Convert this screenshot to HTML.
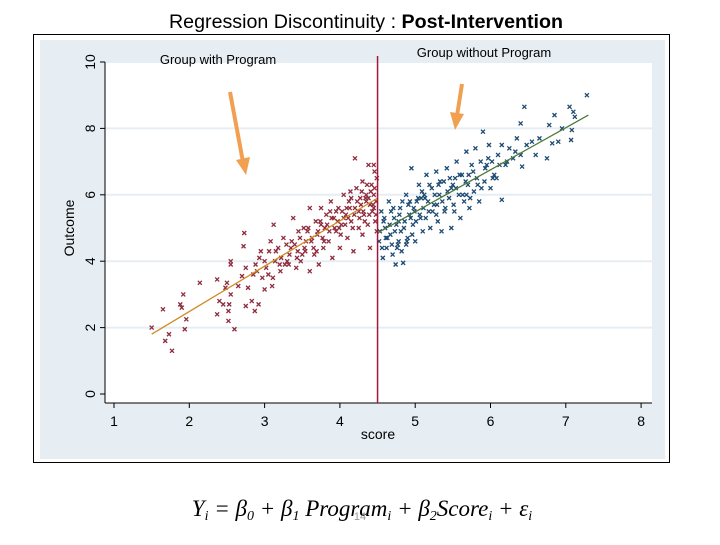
<!DOCTYPE html>
<html><head><meta charset="utf-8"><style>
body{margin:0;background:#fff;width:720px;height:540px;overflow:hidden;font-family:"Liberation Sans",sans-serif}
</style></head><body>
<svg width="720" height="540" xmlns="http://www.w3.org/2000/svg">
<text x="366" y="28" text-anchor="middle" font-size="19" textLength="394" lengthAdjust="spacingAndGlyphs">Regression Discontinuity : <tspan font-weight="bold">Post-Intervention</tspan></text>
<rect x="33.5" y="34.5" width="636" height="428" fill="#fff" stroke="#000"/>
<rect x="40" y="40" width="625" height="419" fill="#e6eef3"/>
<rect x="105" y="62" width="547" height="341" fill="#fff"/>
<g id="grid"></g><g id="axes"></g><g id="marks"></g>
<text x="218" y="64" text-anchor="middle" font-size="13">Group with Program</text>
<text x="484" y="57" text-anchor="middle" font-size="13">Group without Program</text>
<g stroke="#f0a050" stroke-width="4" fill="#f0a050"><line x1="230" y1="92" x2="243" y2="162"/><polygon points="236,160 250,157 246,175" stroke="none"/></g>
<g stroke="#f0a050" stroke-width="4" fill="#f0a050"><line x1="462" y1="84" x2="457" y2="116"/><polygon points="450,112 464,114 455,130" stroke="none"/></g>
<text x="362" y="516" text-anchor="middle" font-family="Liberation Serif,serif" font-style="italic" font-size="23">Y<tspan font-size="14" dy="4">i</tspan><tspan dy="-4"> = β</tspan><tspan font-size="14" dy="4">0</tspan><tspan dy="-4"> + β</tspan><tspan font-size="14" dy="4">1</tspan><tspan dy="-4"> Program</tspan><tspan font-size="14" dy="4">i</tspan><tspan dy="-4"> + β</tspan><tspan font-size="14" dy="4">2</tspan><tspan dy="-4">Score</tspan><tspan font-size="14" dy="4">i</tspan><tspan dy="-4"> + ε</tspan><tspan font-size="14" dy="4">i</tspan></text>
<text x="360" y="520" text-anchor="middle" font-size="11" fill="#999">14</text>
</svg>
<script>
const xTicks=[1,2,3,4,5,6,7,8];
const yTicks=[0,2,4,6,8,10];
const cutoff=4.5;
const leftFit=[[1.5,1.8],[4.5,5.9]];
const rightFit=[[4.5,4.85],[7.3,8.4]];
const leftX=[1.5,1.65,1.68,1.73,1.77,1.88,1.9,1.92,1.94,1.96,2.14,2.37,2.37,2.4,2.45,2.48,2.5,2.52,2.52,2.53,2.55,2.55,2.55,2.6,2.65,2.7,2.72,2.73,2.75,2.75,2.78,2.83,2.87,2.9,2.92,2.95,3.0,3.0,3.05,3.08,3.1,3.12,3.15,3.2,3.25,3.3,3.33,3.38,3.4,3.42,3.45,3.5,3.52,3.55,3.6,3.6,3.65,3.68,3.7,3.72,3.75,3.78,3.8,3.82,3.85,3.88,3.9,3.92,3.95,3.98,4.0,4.02,4.05,4.08,4.1,4.12,4.15,4.18,4.2,4.2,4.22,4.25,4.28,4.3,4.3,4.32,4.35,4.37,4.38,4.4,4.4,4.42,4.43,4.45,4.45,4.47,4.48,4.49,4.49,3.35,3.48,3.58,3.75,3.95,4.05,4.15,4.25,4.35,4.45,
 2.85,2.88,2.93,2.97,3.02,3.06,3.14,3.18,3.22,3.27,3.29,3.36,3.44,3.47,3.53,3.57,3.62,3.66,3.71,3.74,3.77,3.83,3.86,3.89,3.93,3.97,4.01,4.03,4.07,4.11,4.13,4.17,4.19,4.23,4.26,4.29,4.31,4.34,4.36,4.39,4.41,4.44,4.46,4.48,4.33,4.27,4.14,4.09,3.99,3.87,3.79,3.69,3.63,3.54,3.43,3.32,3.21,3.11,4.38,4.46];
const leftY=[2.0,2.55,1.6,1.8,1.3,2.7,2.6,3.0,1.95,2.25,3.35,2.4,3.45,2.8,2.7,3.2,3.35,2.5,2.2,2.7,3.0,3.9,4.0,1.95,3.25,3.55,4.45,4.85,2.65,3.8,3.2,2.8,2.5,3.7,2.7,4.3,3.15,4.0,3.6,4.6,3.25,5.1,4.3,3.9,4.7,4.0,4.2,5.3,4.5,3.8,4.9,4.2,5.0,4.6,3.7,5.6,4.4,5.2,4.8,3.9,5.6,4.4,5.0,5.4,4.6,5.8,4.1,5.3,4.9,5.6,4.4,5.1,6.0,5.4,4.7,5.8,5.2,4.3,5.6,7.1,6.2,5.0,5.7,6.4,4.8,5.4,6.0,5.1,6.9,5.7,4.4,6.3,5.5,6.9,6.0,5.2,5.8,6.5,4.9,4.4,4.0,5.0,5.1,5.5,5.3,5.9,5.5,5.8,5.6,
 3.6,3.9,4.1,3.5,3.8,4.3,4.0,4.4,4.1,3.9,4.5,4.6,4.3,4.7,4.4,4.9,4.6,4.2,4.9,5.2,4.7,5.1,4.9,5.3,5.0,5.2,4.8,5.5,5.1,5.3,5.6,5.0,5.4,5.8,5.3,6.1,5.5,5.9,6.3,5.4,6.1,5.7,6.2,5.4,5.2,5.9,6.1,5.6,5.0,5.5,4.6,4.3,4.7,4.3,4.1,3.9,3.7,3.5,5.9,6.7];
const rightX=[4.52,4.55,4.57,4.6,4.62,4.65,4.67,4.7,4.72,4.74,4.75,4.78,4.8,4.82,4.84,4.85,4.88,4.9,4.92,4.95,4.97,5.0,5.02,5.05,5.07,5.1,5.12,5.15,5.18,5.2,5.22,5.25,5.28,5.3,5.32,5.35,5.38,5.4,5.42,5.45,5.48,5.5,5.52,5.55,5.58,5.6,5.62,5.65,5.68,5.7,5.72,5.75,5.78,5.8,5.82,5.85,5.87,5.9,5.92,5.95,5.98,6.0,6.02,6.05,6.1,6.15,6.15,6.2,6.25,6.3,6.35,6.4,6.4,6.42,6.45,6.48,6.55,6.6,6.65,6.75,6.78,6.82,6.85,6.9,6.95,7.05,7.07,7.08,7.1,7.12,7.28,4.58,4.68,4.78,4.88,4.98,5.08,5.28,5.48,5.68,5.88,6.08,
 4.53,4.56,4.59,4.63,4.66,4.69,4.71,4.73,4.76,4.79,4.81,4.83,4.86,4.89,4.91,4.94,4.96,4.99,5.01,5.04,5.06,5.09,5.11,5.14,5.17,5.19,5.23,5.26,5.29,5.33,5.36,5.39,5.43,5.46,5.51,5.54,5.59,5.63,5.67,5.73,5.77,5.83,5.93,6.03,6.12,6.22,6.33,4.61,4.77,4.93,5.13,5.31,5.53,5.71,5.97];
const rightY=[4.6,5.5,4.1,5.0,4.4,5.8,4.8,4.2,5.3,3.9,5.1,4.6,5.6,4.3,3.95,5.0,6.0,4.7,5.4,6.8,5.1,4.6,5.8,6.3,5.3,4.9,6.0,6.6,5.5,5.0,6.2,5.7,6.7,5.2,6.0,4.9,6.4,5.6,6.8,5.9,5.0,6.3,5.5,7.0,6.0,5.3,6.6,5.8,7.3,6.3,5.6,6.9,6.1,7.4,6.5,5.8,7.0,7.9,6.4,6.9,7.5,6.2,7.0,6.6,7.2,5.85,7.5,6.9,7.4,7.1,7.7,8.15,7.2,6.85,8.65,7.5,7.6,7.2,7.7,7.1,8.1,7.55,8.4,7.6,8.0,8.65,7.65,7.95,8.5,8.35,9.0,5.2,5.5,5.2,4.5,5.6,5.9,5.4,6.2,6.0,6.2,6.5,
 4.9,4.4,5.3,4.7,5.1,4.5,5.6,4.9,4.4,5.4,4.9,5.8,5.2,4.6,5.7,5.3,4.8,5.5,5.2,5.9,5.4,6.1,5.6,5.3,5.8,6.3,5.5,6.0,5.7,6.4,5.8,5.5,6.1,6.5,5.7,6.2,6.6,6.0,6.4,5.9,6.7,6.3,6.8,6.5,6.9,7.0,7.3,4.7,4.5,5.8,5.9,6.3,6.5,6.6,7.1];
const NS="http://www.w3.org/2000/svg";
const sx=v=>114+(v-1)*75.3, sy=v=>394-v*33.2;
function mk(tag,attrs,parent,txt){const e=document.createElementNS(NS,tag);for(const k in attrs)e.setAttribute(k,attrs[k]);if(txt!==undefined)e.textContent=txt;document.getElementById(parent).appendChild(e);return e;}
yTicks.forEach(t=>{
 if(t>0){const g=mk('line',{x1:105,x2:652,y1:sy(t),y2:sy(t),stroke:'#e6eef3','stroke-width':2},'grid');
 
 }
 const tk=mk('line',{x1:100,x2:105,y1:sy(t),y2:sy(t),stroke:'#000'},'axes');
 
 
 const l=mk('text',{x:0,y:0,transform:`translate(${95},${sy(t)}) rotate(-90)`,'text-anchor':'middle','font-size':14},'axes',t);
 
 
});
xTicks.forEach(t=>{
 const tk=mk('line',{x1:sx(t),x2:sx(t),y1:403,y2:408,stroke:'#000'},'axes');
 
 
 const l=mk('text',{x:sx(t),y:426,'text-anchor':'middle','font-size':14},'axes',t);
 
 
});
let a=mk('line',{x1:105,x2:105,y1:62,y2:403,stroke:'#000'},'axes');


a=mk('line',{x1:105,x2:652,y1:403,y2:403,stroke:'#000'},'axes');


a=mk('text',{x:378,y:439,'text-anchor':'middle','font-size':14},'axes','score');


a=mk('text',{x:0,y:0,transform:'translate(74,228) rotate(-90)','text-anchor':'middle','font-size':14},'axes','Outcome');


function pts(xs,ys,col,name){xs.forEach((x,i)=>{const cx=sx(x),cy=sy(ys[i]);
 const p=mk('path',{d:`M${cx-2},${cy-2}L${cx+2},${cy+2}M${cx-2},${cy+2}L${cx+2},${cy-2}`,stroke:col,'stroke-width':1.3},'marks');
 
 });}
pts(leftX,leftY,'#8e2b3c','point-with-program');
pts(rightX,rightY,'#1d4a72','point-without-program');
let f=mk('line',{x1:sx(leftFit[0][0]),y1:sy(leftFit[0][1]),x2:sx(leftFit[1][0]),y2:sy(leftFit[1][1]),stroke:'#d08a20','stroke-width':1.3},'marks');


f=mk('line',{x1:sx(rightFit[0][0]),y1:sy(rightFit[0][1]),x2:sx(rightFit[1][0]),y2:sy(rightFit[1][1]),stroke:'#4f7a3a','stroke-width':1.3},'marks');


f=mk('line',{x1:sx(cutoff),x2:sx(cutoff),y1:56,y2:403,stroke:'#a0193a','stroke-width':1.5},'marks');


</script>
</body></html>
